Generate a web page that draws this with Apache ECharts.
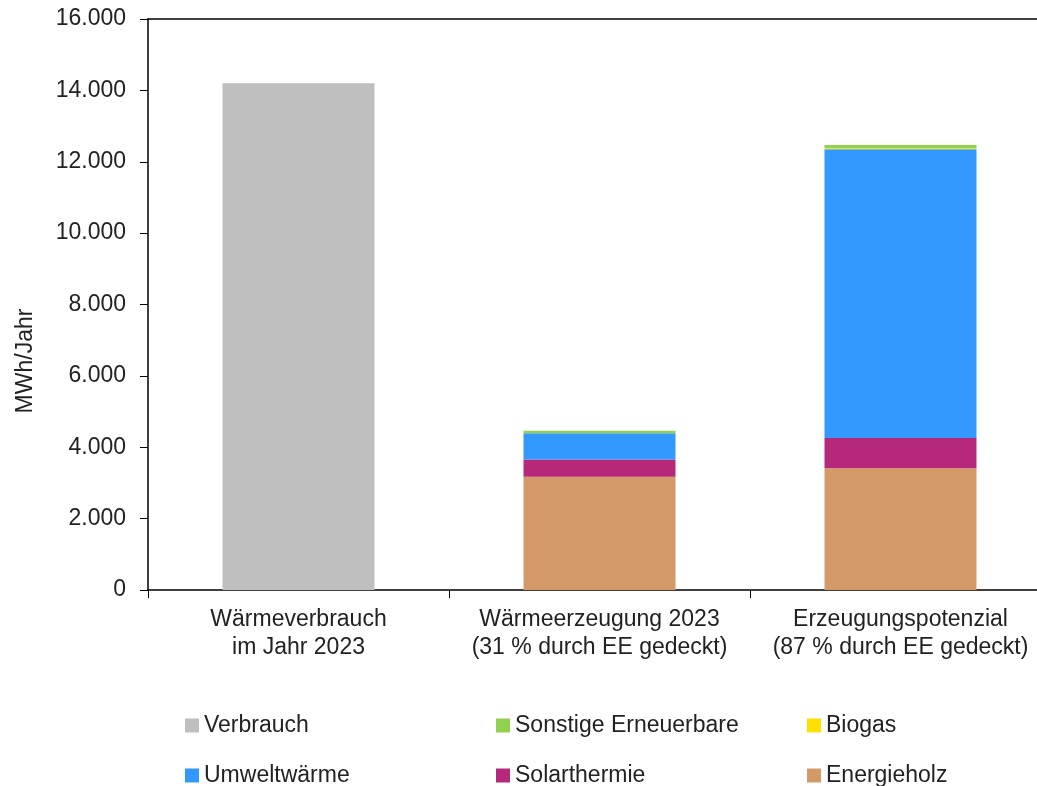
<!DOCTYPE html>
<html>
<head>
<meta charset="utf-8">
<script src="https://cdn.jsdelivr.net/npm/echarts@6/dist/echarts.min.js"></script>
<style>
  html, body { margin: 0; padding: 0; background: #fff; overflow: hidden; }
  #main { width: 1051px; height: 786px; }
</style>
</head>
<body>
<div id="main"></div>
<script>
// Kategorien und Werte (MWh/Jahr)
var categories = ['Wärmeverbrauch\nim Jahr 2023', 'Wärmeerzeugung 2023\n(31 % durch EE gedeckt)', 'Erzeugungspotenzial\n(87 % durch EE gedeckt)'];
var verbrauch = [14200, null, null];
var energieholz = [null, 3170, 3410];
var solarthermie = [null, 490, 850];
var umweltwaerme = [null, 730, 8090];
var biogas = [null, null, 30];
var sonstige = [null, 70, 90];
var yTicks = [0, 2000, 4000, 6000, 8000, 10000, 12000, 14000, 16000];

var FONT = '"Liberation Sans", Arial, sans-serif';

function fmt(v) {
  return String(v).replace(/\B(?=(\d{3})+(?!\d))/g, '.');
}

var chart = echarts.init(document.getElementById('main'));

var legendPos = [
  { name: 'Verbrauch', left: 185, top: 714 },
  { name: 'Sonstige Erneuerbare', left: 496, top: 714 },
  { name: 'Biogas', left: 807, top: 714 },
  { name: 'Umweltwärme', left: 185, top: 764 },
  { name: 'Solarthermie', left: 496, top: 764 },
  { name: 'Energieholz', left: 807, top: 764 }
];

var legends = legendPos.map(function (p) {
  return {
    data: [p.name],
    left: p.left,
    top: p.top,
    padding: 0,
    icon: 'rect',
    itemWidth: 14,
    itemHeight: 14,
    itemGap: 0,
    selectedMode: false,
    textStyle: { fontFamily: FONT, fontSize: 23, color: '#222' }
  };
});

function bar(name, data, color) {
  return {
    name: name,
    type: 'bar',
    stack: 'total',
    barWidth: 152,
    data: data,
    itemStyle: { color: color },
    emphasis: { disabled: true }
  };
}

var option = {
  animation: false,
  textStyle: { fontFamily: FONT },
  grid: {
    left: 148,
    top: 19,
    right: 0,
    bottom: 196
  },
  legend: legends,
  graphic: [{
    type: 'text',
    x: 26,
    y: 361,
    rotation: Math.PI / 2,
    style: {
      text: 'MWh/Jahr',
      font: '23px ' + FONT,
      fill: '#222',
      textAlign: 'center',
      textVerticalAlign: 'middle'
    }
  }],
  xAxis: [{
    type: 'category',
    data: categories,
    axisLine: { lineStyle: { color: '#000', width: 1.5 } },
    axisTick: { show: true, length: 8, lineStyle: { color: '#000' } },
    axisLabel: {
      fontFamily: FONT,
      fontSize: 23,
      color: '#222',
      lineHeight: 28,
      margin: 16,
      interval: 0
    }
  }, {
    // obere Rahmenlinie
    type: 'category',
    position: 'top',
    data: categories,
    axisLine: { show: true, lineStyle: { color: '#000', width: 1.5 } },
    axisTick: { show: false },
    axisLabel: { show: false }
  }],
  yAxis: {
    type: 'value',
    min: 0,
    max: 16000,
    interval: 2000,
    splitLine: { show: false },
    axisLine: { show: true, lineStyle: { color: '#000', width: 1.5 } },
    axisTick: { show: true, length: 8, lineStyle: { color: '#000' } },
    axisLabel: {
      fontFamily: FONT,
      fontSize: 23,
      color: '#222',
      margin: 22,
      formatter: function (v) { return yTicks.indexOf(v) >= 0 ? fmt(v) : ''; }
    }
  },
  series: [
    bar('Verbrauch', verbrauch, '#BFBFBF'),
    bar('Energieholz', energieholz, '#D39A68'),
    bar('Solarthermie', solarthermie, '#B5287A'),
    bar('Umweltwärme', umweltwaerme, '#3399FF'),
    bar('Biogas', biogas, '#FFE000'),
    bar('Sonstige Erneuerbare', sonstige, '#92D050')
  ]
};

chart.setOption(option);
</script>
</body>
</html>
